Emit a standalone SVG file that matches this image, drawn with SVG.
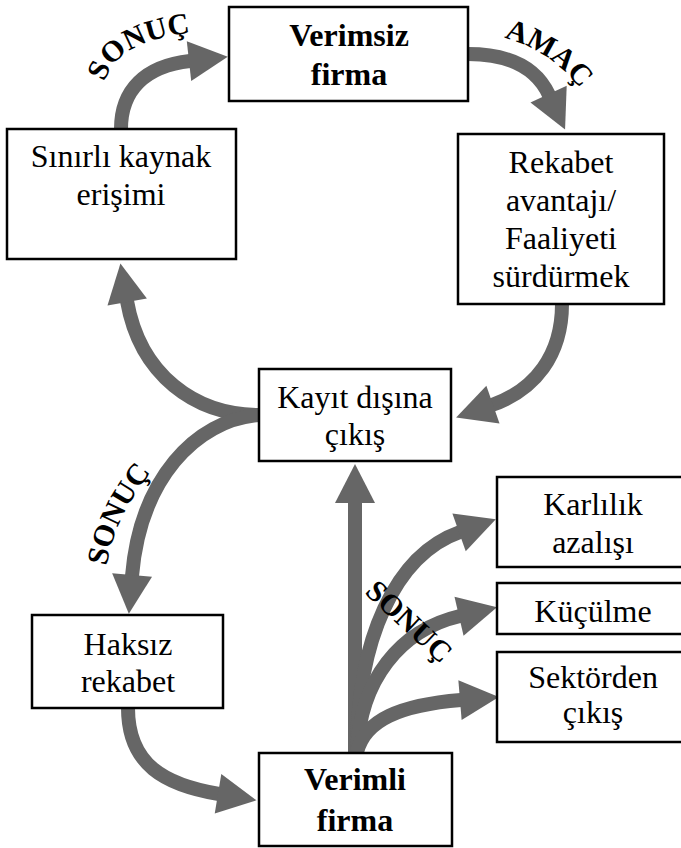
<svg xmlns="http://www.w3.org/2000/svg" width="681" height="848" viewBox="0 0 681 848">
<style>
.box{fill:#fff;stroke:#000;stroke-width:2.5}
.t{font-family:'Liberation Serif','Times New Roman',Times,'DejaVu Serif',serif;font-size:32px;fill:#000;text-anchor:middle}
.b{font-weight:bold}
.lbl{font-family:'Liberation Serif','Times New Roman',Times,'DejaVu Serif',serif;font-size:30px;font-weight:bold;fill:#000}
.arr{fill:none;stroke:#666;stroke-width:14;marker-end:url(#ah)}
</style>
<defs>
<marker id="ah" markerUnits="userSpaceOnUse" markerWidth="40" markerHeight="40" viewBox="0 -20 40 40" refX="1" refY="0" orient="auto" overflow="visible">
<path d="M0,-20 L39,0 L0,20 z" fill="#666"/>
</marker>
<path id="p1" d="M104,84 C112,52 148,34 215,31"/>
<path id="p2" d="M500,37 C540,46 575,72 596,115"/>
<path id="p3" d="M106,570 C112,530 130,495 162,460"/>
</defs>
<g id="connectors">
<path class="arr" d="M121,129 C121,90 145,66 190,61"/>
<path class="arr" d="M468,54 C505,54 535,65 549,95"/>
<path class="arr" d="M562,304 C562,355 535,390 492,405"/>
<path class="arr" d="M259,415 C195,415 140,375 127,301"/>
<path class="arr" d="M259,415 C195,420 140,480 132,576"/>
<path class="arr" d="M128,708 C128,765 165,785 219,794"/>
<path class="arr" d="M355,753 L355,502"/>
<path class="arr" d="M357,752 C357,640 395,555 460,532"/>
<path class="arr" d="M357,752 C360,680 400,630 460,616"/>
<path class="arr" d="M357,752 C365,720 400,705 461,700"/>
</g>
<g id="labels">
<text class="lbl"><textPath href="#p1" startOffset="2">SONUÇ</textPath></text>
<text class="lbl"><textPath href="#p2" startOffset="4">AMAÇ</textPath></text>
<text class="lbl"><textPath href="#p3" startOffset="4">SONUÇ</textPath></text>
<text class="lbl" transform="translate(364,593) rotate(43)">SONUÇ</text>
</g>
<g id="verimsiz">
<rect class="box" x="229" y="7" width="239" height="94"/>
<text class="t b" x="349" y="46">Verimsiz</text>
<text class="t b" x="349" y="85">firma</text>
</g>
<g id="sinirli">
<rect class="box" x="7" y="129" width="229" height="130"/>
<text class="t" x="121" y="167">Sınırlı kaynak</text>
<text class="t" x="121" y="205">erişimi</text>
</g>
<g id="rekabet">
<rect class="box" x="458" y="134" width="206" height="170"/>
<text class="t" x="561" y="173">Rekabet</text>
<text class="t" x="561" y="211">avantajı/</text>
<text class="t" x="561" y="249">Faaliyeti</text>
<text class="t" x="561" y="287">sürdürmek</text>
</g>
<g id="kayit">
<rect class="box" x="259" y="369" width="192" height="92"/>
<text class="t" x="355" y="408">Kayıt dışına</text>
<text class="t" x="355" y="445">çıkış</text>
</g>
<g id="karlilik">
<rect class="box" x="497" y="477" width="192" height="90"/>
<text class="t" x="593" y="515">Karlılık</text>
<text class="t" x="593" y="553">azalışı</text>
</g>
<g id="kuculme">
<rect class="box" x="497" y="583" width="192" height="51"/>
<text class="t" x="593" y="622">Küçülme</text>
</g>
<g id="sektorden">
<rect class="box" x="497" y="652" width="192" height="90"/>
<text class="t" x="593" y="688">Sektörden</text>
<text class="t" x="593" y="723">çıkış</text>
</g>
<g id="haksiz">
<rect class="box" x="32" y="615" width="191" height="93"/>
<text class="t" x="128" y="655">Haksız</text>
<text class="t" x="128" y="692">rekabet</text>
</g>
<g id="verimli">
<rect class="box" x="259" y="753" width="193" height="93"/>
<text class="t b" x="355" y="790">Verimli</text>
<text class="t b" x="355" y="831">firma</text>
</g>
</svg>
